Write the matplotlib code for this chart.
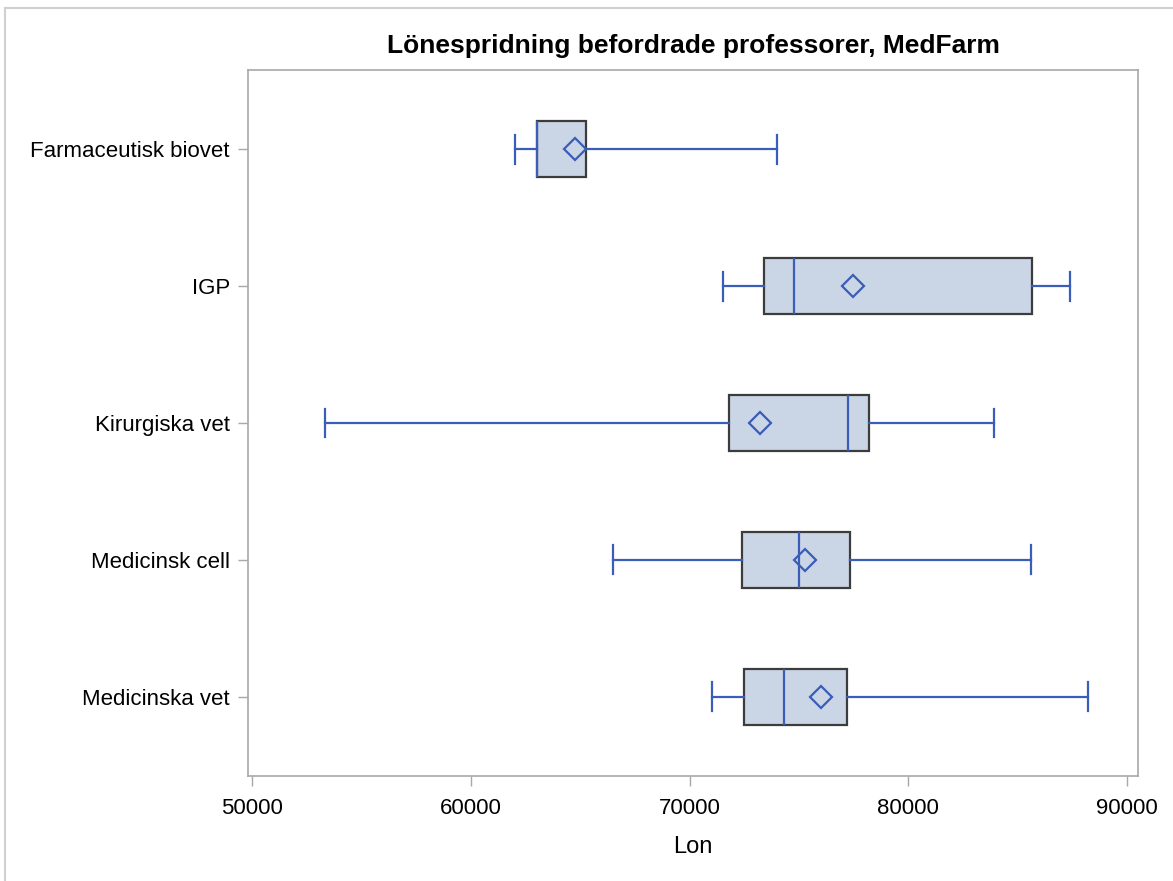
import matplotlib
matplotlib.use("Agg")
import matplotlib.pyplot as plt
from matplotlib.lines import Line2D

plt.rcParams['font.family'] = ['Liberation Sans', 'DejaVu Sans']

# data (top to bottom)
categories = ['Farmaceutisk biovet', 'IGP', 'Kirurgiska vet', 'Medicinsk cell', 'Medicinska vet']
whislo = [62000, 71500, 53300, 66500, 71000]
q1 = [63000, 73400, 71800, 72400, 72500]
med = [63000, 74750, 77250, 75000, 74300]
q3 = [65250, 85650, 78200, 77350, 77200]
whishi = [74000, 87400, 83900, 85600, 88200]
mean = [64750, 77450, 73200, 75250, 76000]

xticks = [50000, 60000, 70000, 80000, 90000]

blue = '#3A5DB8'
box_fill = '#CAD5E5'
edge = '#3C3C3C'
spine = '#A8A8A8'

stats = []
for i, name in enumerate(categories):
    stats.append({'label': name, 'whislo': whislo[i], 'q1': q1[i], 'med': med[i],
                  'q3': q3[i], 'whishi': whishi[i], 'mean': mean[i], 'fliers': []})

fig = plt.figure(figsize=(11.73, 8.81), dpi=100)
ax = fig.add_axes([248 / 1173, 1 - 776 / 881, (1138 - 248) / 1173, (776 - 70) / 881])

positions = list(range(len(categories)))
ax.bxp(stats, positions=positions, vert=False, widths=0.41, patch_artist=True,
       showmeans=True, capwidths=0.21,
       boxprops=dict(facecolor=box_fill, edgecolor=edge, linewidth=1.6),
       medianprops=dict(color=blue, linewidth=1.6),
       whiskerprops=dict(color=blue, linewidth=1.6),
       capprops=dict(color=blue, linewidth=1.6),
       meanprops=dict(marker='D', markerfacecolor='none', markeredgecolor=blue,
                      markeredgewidth=1.6, markersize=11))

ax.set_ylim(len(categories) - 1 + 0.58, -0.58)
ax.set_xlim(49800, 90500)
ax.set_xticks(xticks)
ax.set_xticklabels([str(t) for t in xticks])
ax.set_yticks(positions)
ax.set_yticklabels(categories)
ax.tick_params(axis='both', colors=spine, labelcolor='black', labelsize=16,
               length=7, width=1)
ax.tick_params(axis='x', pad=9)
ax.tick_params(axis='y', pad=6)
for s in ax.spines.values():
    s.set_color(spine)
    s.set_linewidth(1.2)

ax.set_xlabel('Lon', fontsize=17, labelpad=12)
ax.set_title('Lönespridning befordrade professorer, MedFarm', fontsize=19,
             fontweight='bold', pad=12)

# light frame around the graph image (top and left edges)
fig.add_artist(Line2D([5 / 1173, 1], [1 - 8 / 881, 1 - 8 / 881], color='#D0D0D0', lw=1.5,
                      transform=fig.transFigure))
fig.add_artist(Line2D([5 / 1173, 5 / 1173], [0, 1 - 8 / 881], color='#D0D0D0', lw=1.5,
                      transform=fig.transFigure))

fig.savefig('out.png', dpi=100)
